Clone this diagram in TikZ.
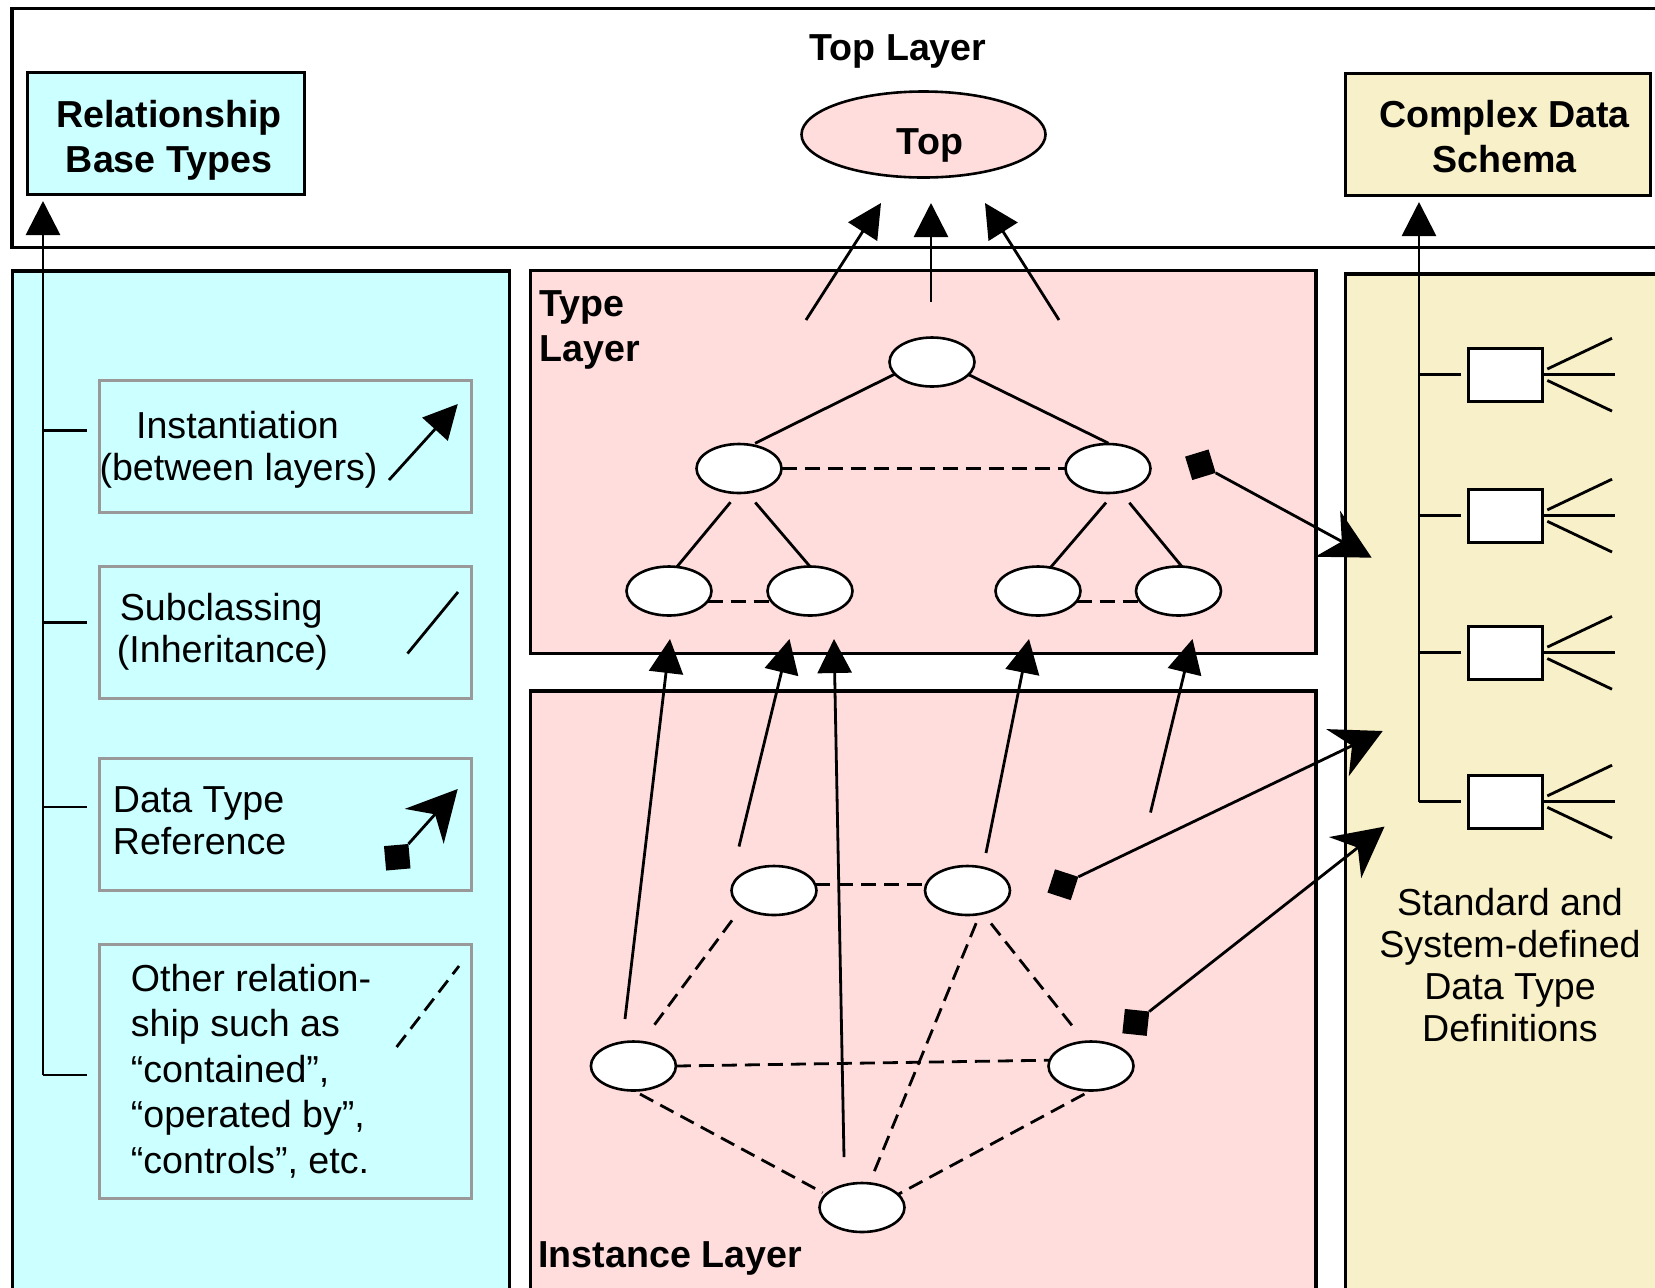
\documentclass[tikz,border=0pt]{standalone}
\usepackage{fontspec}
\setmainfont{Liberation Sans}
\usetikzlibrary{arrows.meta,shapes.geometric,calc}
\definecolor{cyanbg}{RGB}{204,255,255}
\definecolor{pinkbg}{RGB}{255,221,221}
\definecolor{yellowbg}{RGB}{248,240,200}
\definecolor{legendgrey}{RGB}{153,153,153}
\begin{document}
\begin{tikzpicture}[x=0.5pt,y=-0.5pt,
  every node/.style={font=\fontsize{18.8}{21}\selectfont},
  panel/.style={line width=1.85pt},
  oval/.style={ellipse,draw,line width=1.3pt,fill=white,minimum width=42.5pt,minimum height=24.5pt,inner sep=0pt,outer sep=0pt},
  conn/.style={line width=1.4pt},
  dashconn/.style={line width=1.4pt,dash pattern=on 7.5pt off 4pt},
  inst/.style={line width=1.4pt,-{Triangle[length=17pt,width=17pt]}},
  dtref/.style={line width=1.4pt,-{Stealth[length=25pt,width=26pt,inset=8pt]}},
  tail/.style={fill=black,minimum size=12.25pt,inner sep=0pt,outer sep=0pt},
  legendbox/.style={draw=legendgrey,line width=1.5pt,minimum width=186pt,inner sep=0pt,outer sep=0pt},
  hdr/.style={font=\fontsize{18.8}{22.5}\selectfont\bfseries},
  dtbox/.style={draw,fill=white,line width=1.5pt,minimum width=37pt,minimum height=26.5pt,inner sep=0pt,outer sep=0pt}
]
\useasboundingbox (0,0) rectangle (1655,1287);
\clip (0,0) rectangle (1655,1287);
\fill[white] (0,0) rectangle (1655,1287);

% panels
\draw[panel] (12,8.5) rectangle (1720,247.5);
\draw[panel,fill=cyanbg] (12.5,271) rectangle (509.5,1310);
\draw[panel,fill=pinkbg] (530.5,270.5) rectangle (1316,653.5);
\draw[panel,fill=pinkbg] (530.5,691) rectangle (1316,1310);
\draw[panel,fill=yellowbg] (1345.5,274) rectangle (1720,1310);

% top layer
\node[hdr] (toplabel) at (898,51.5) {Top Layer};
\node[draw,fill=cyanbg,line width=1.5pt,minimum width=138.5pt,minimum height=61pt] (rbt) at (166,133.5) {};
\node[align=center,hdr] (rbttext) at (169,140) {Relationship\\Base Types};
\node[draw,fill=yellowbg,line width=1.5pt,minimum width=152.5pt,minimum height=61pt] (cds) at (1498,134.5) {};
\node[align=center,hdr] (cdstext) at (1504.5,137) {Complex Data\\Schema};
\node[ellipse,draw,fill=pinkbg,line width=1.3pt,minimum width=122pt,minimum height=43pt,inner sep=0pt] (top) at (923.5,134.5) {};
\node[hdr] (toptext) at (930,145) {Top};

% layer labels
\node[hdr,anchor=west,align=left,inner sep=0pt] (typelabel) at (539,330) {Type\\Layer};
\node[hdr,anchor=west,inner sep=0pt] (instlabel) at (538,1258) {Instance Layer};

% legend boxes
\node[legendbox,minimum height=66pt] (b1) at (285.3,446.5) {};
\node[legendbox,minimum height=66pt] (b2) at (285.3,632.5) {};
\node[legendbox,minimum height=66pt] (b3) at (285.3,824.5) {};
\node[legendbox,minimum height=127pt] (b4) at (285.3,1071) {};
\node[align=center] (t1) at (238.5,449.5) {\hspace*{-1pt}Instantiation\\(between layers)};
\node[anchor=west,align=left,inner sep=0pt] (t2) at (116.5,631.5) {\hspace*{1.5pt}Subclassing\\(Inheritance)};
\node[anchor=west,align=left,inner sep=0pt] (t3) at (112.5,821) {Data Type\\Reference};
\node[anchor=west,align=left,inner sep=0pt,font=\fontsize{18.8}{22.7}\selectfont] (t4) at (130.5,1071) {Other relation-\\ship such as\\“contained”,\\“operated by”,\\“controls”, etc.};

% legend samples
\coordinate (s1a) at (389,480);
\coordinate (s1b) at (457.8,404);
\draw[inst] (s1a) -- (s1b);
\coordinate (s2a) at (407.5,653.5);
\coordinate (s2b) at (458,592);
\draw[conn] (s2a) -- (s2b);
\node[tail,rotate=5] (dq0) at (397.25,857.25) {};
\coordinate (s3b) at (457.7,789);
\draw[dtref] (dq0.north east) -- (s3b);
\coordinate (s4a) at (396.6,1047);
\coordinate (s4b) at (459,966);
\draw[dashconn] (s4a) -- (s4b);

% left spine
\coordinate (lspine) at (43,1075);
\draw[inst,shorten >=2.5pt] (lspine) -- (lspine |- rbt.south);
\draw[conn] ([yshift=8pt]b1.west -| lspine) -- ([xshift=-6pt,yshift=8pt]b1.west);
\draw[conn] ([yshift=5pt]b2.west -| lspine) -- ([xshift=-6pt,yshift=5pt]b2.west);
\draw[conn] ([yshift=8.75pt]b3.west -| lspine) -- ([xshift=-6pt,yshift=8.75pt]b3.west);
\draw[conn] ([yshift=-2pt]b4.west -| lspine) -- ([xshift=-6pt,yshift=-2pt]b4.west);

% right column: data type definitions
\node[dtbox] (sq1) at (1505,374.7) {};
\node[dtbox] (sq2) at (1505,515.6) {};
\node[dtbox] (sq3) at (1505,652.8) {};
\node[dtbox] (sq4) at (1505,801.6) {};
\coordinate (rspine) at (1419,801.6);
\draw[inst,shorten >=2.5pt] (sq4.west -| rspine) -- (rspine |- cds.south);
\foreach \s in {sq1,sq2,sq3,sq4}{
  \draw[conn] (\s.west -| rspine) -- ([xshift=-3.5pt]\s.west);
  \draw[conn] ([shift={(2.65pt,2.85pt)}]\s.east) -- ([shift={(35pt,18.2pt)}]\s.east);
  \draw[conn] ([xshift=-0.5pt]\s.east) -- ([xshift=36.5pt]\s.east);
  \draw[conn] ([shift={(2.65pt,-2.85pt)}]\s.east) -- ([shift={(35pt,-18.2pt)}]\s.east);
}
\node[align=center] (stdtext) at (1510,965.5) {Standard and\\System-defined\\Data Type\\Definitions};

% type layer nodes
\node[oval] (tn) at (932,362) {};
\node[oval] (l2a) at (739,468.5) {};
\node[oval] (l2b) at (1108,468.5) {};
\node[oval] (l3a) at (669,591) {};
\node[oval] (l3b) at (810,591) {};
\node[oval] (l3c) at (1038,591) {};
\node[oval] (l3d) at (1178.5,591) {};
\draw[conn,shorten >=2pt] (tn.198) -- (l2a.62);
\draw[conn,shorten >=1pt] (tn.-19) -- (l2b.85);
\draw[conn,shorten <=6pt] (l2a.-92) -- (l3a.72);
\draw[conn,shorten <=6.5pt] (l2a.-72) -- (l3b.north);
\draw[conn,shorten <=6.5pt] (l2b.-75) -- (l3c.62);
\draw[conn,shorten <=7pt] (l2b.-62) -- (l3d.82);
\draw[dashconn] (l2a) -- (l2b);
\draw[dashconn] (l3a.-15) -- (l3b.195);
\draw[dashconn] (l3c.-15) -- (l3d.195);

% arrows to top
\coordinate (t1s) at (806,320);  \coordinate (t1e) at (881,203);
\coordinate (t2s) at (931,302);  \coordinate (t2e) at (931,203);
\coordinate (t3s) at (1059,320); \coordinate (t3e) at (985,203);
\draw[inst] (t1s) -- (t1e);
\draw[inst] (t2s) -- (t2e);
\draw[inst] (t3s) -- (t3e);

% instance layer nodes
\node[oval] (i1) at (774,890.5) {};
\node[oval] (i2) at (967.5,890.5) {};
\node[oval] (i3) at (633.4,1066) {};
\node[oval] (i4) at (1091,1066) {};
\node[oval] (i5) at (862,1207.5) {};
\draw[dashconn] (i1.8) -- (i2.172);
\draw[dashconn,shorten <=8.5pt,shorten >=8.5pt] (i1.207) -- (i3.71);
\draw[dashconn,shorten <=5pt,shorten >=3pt] (i2.-62) -- (i5.73);
\draw[dashconn,shorten <=6.5pt,shorten >=9pt] (i2.-56) -- (i4.104);
\draw[dashconn] (i3.east) -- (i4.172);
\draw[dashconn,shorten <=3.75pt,shorten >=2pt] (i3.south) -- (i5.160);
\draw[dashconn,shorten <=3.75pt] (i4.south) -- (i5.20);

% instantiation arrows
\coordinate (a1s) at (625,1019);   \coordinate (a1e) at (670,639);
\coordinate (a2s) at (739,846.5);  \coordinate (a2e) at (789.5,639);
\coordinate (a3s) at (844,1157);   \coordinate (a3e) at (834,639);
\coordinate (a4s) at (986,853);    \coordinate (a4e) at (1029,639);
\coordinate (a5s) at (1150.5,812.5); \coordinate (a5e) at (1192.5,639);
\draw[inst] (a1s) -- (a1e);
\draw[inst] (a2s) -- (a2e);
\draw[inst] (a3s) -- (a3e);
\draw[inst] (a4s) -- (a4e);
\draw[inst] (a5s) -- (a5e);

% data type references
\node[tail,rotate=17] (dq1) at (1200.4,464.75) {};
\coordinate (d1e) at (1371.7,557.7);
\draw[dtref] (dq1.south east) -- (d1e);
\node[tail,rotate=-18] (dq2) at (1062.9,884.7) {};
\coordinate (d2e) at (1382.7,731);
\draw[dtref] (dq2.north east) -- (d2e);
\node[tail,rotate=-6] (dq3) at (1135.8,1022.4) {};
\coordinate (d3e) at (1384.5,826.6);
\draw[dtref] (dq3.north east) -- (d3e);
\end{tikzpicture}
\end{document}
